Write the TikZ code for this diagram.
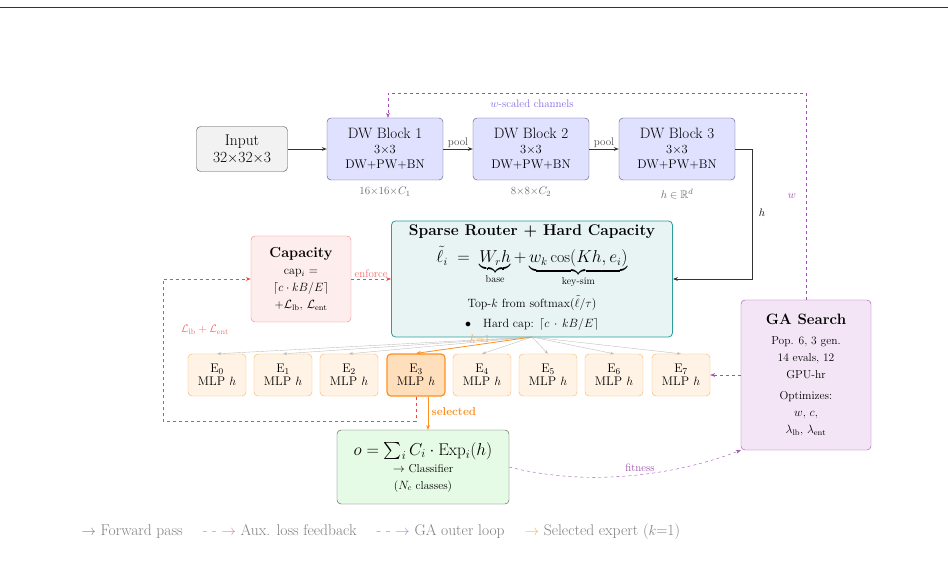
\documentclass[tikz,border=0pt]{standalone}
\usepackage{amsmath,amssymb}
\usepackage{fontspec}
\usetikzlibrary{arrows.meta}
\definecolor{blk}{HTML}{E0E0FF}\definecolor{blkd}{HTML}{505080}
\definecolor{rtf}{HTML}{E8F4F4}\definecolor{rtd}{HTML}{2A9D9D}
\definecolor{capf}{HTML}{FDEDED}\definecolor{capd}{HTML}{F04848}
\definecolor{gaf}{HTML}{F3E5F5}\definecolor{gad}{HTML}{A050B0}
\definecolor{exf}{HTML}{FFF3E6}\definecolor{exd}{HTML}{FFB060}
\definecolor{ors}{HTML}{FF9020}\definecolor{outf}{HTML}{E6FBE6}
\begin{document}
\begin{tikzpicture}[x=1pt,y=-1pt,
 box/.style={draw,rounded corners=4pt,align=center,inner sep=2pt},
 dw/.style={box,fill=blk,draw=blkd,minimum width=116pt,minimum height=62pt,font=\fontsize{15}{16}\selectfont},
 ex/.style={box,fill=exf,draw=exd,minimum width=58pt,minimum height=42pt,font=\fontsize{12.5}{13}\selectfont},
 fw/.style={-{Stealth[length=5pt]},thick,black!80},
 gl/.style={-{Stealth[length=4pt]},black!25},
 rd/.style={-{Stealth[length=5pt]},dashed,capd,thick},
 pd/.style={-{Stealth[length=5pt]},dashed,gad},
 sm/.style={font=\fontsize{11}{12}\selectfont}]
\useasboundingbox (0,0) rectangle (948,569);
\draw[black!80] (0,7) -- (948,7);
\node[box,fill=black!5,draw=black!70,minimum width=91pt,minimum height=45pt,font=\fontsize{15.5}{17}\selectfont] (in) at (242,149) {Input\\32$\times$32$\times$3};
\node[dw] (d1) at (385,149) {DW Block 1\\[-1pt]{\fontsize{12.5}{14}\selectfont 3$\times$3}\\[-1pt]{\fontsize{12.5}{14}\selectfont DW+PW+BN}};
\node[dw] (d2) at (531,149) {DW Block 2\\[-1pt]{\fontsize{12.5}{14}\selectfont 3$\times$3}\\[-1pt]{\fontsize{12.5}{14}\selectfont DW+PW+BN}};
\node[dw] (d3) at (677,149) {DW Block 3\\[-1pt]{\fontsize{12.5}{14}\selectfont 3$\times$3}\\[-1pt]{\fontsize{12.5}{14}\selectfont DW+PW+BN}};
\node[sm,black!60] (l1) at (385,192) {16$\times$16$\times C_1$};
\node[sm,black!60] (l2) at (531,192) {8$\times$8$\times C_2$};
\node[sm,black!60] (l3) at (677,194) {$h\in\mathbb{R}^d$};
\draw[fw] (in) -- (d1);
\draw[fw] (d1) -- node[above,sm,black!70,inner sep=1pt]{pool} (d2);
\draw[fw] (d2) -- node[above,sm,black!70,inner sep=1pt]{pool} (d3);
\node[box,fill=rtf,draw=rtd,thick,minimum width=281pt,minimum height=116pt] (rt) at (532,279) {};
\node[font=\bfseries\fontsize{15.5}{16}\selectfont] (rtt) at (532,232) {Sparse Router + Hard Capacity};
\node[font=\fontsize{16}{17}\selectfont,anchor=north] (rte) at (532,243) {$\tilde\ell_i \;=\; \underbrace{W_r h}_{\text{\fontsize{10}{11}\selectfont base}} + \underbrace{w_k\cos(Kh,e_i)}_{\text{\fontsize{10}{11}\selectfont key-sim}}$};
\node[font=\fontsize{12}{13}\selectfont] (rt1) at (532,303) {Top-$k$ from softmax$(\tilde\ell/\tau)$};
\node[font=\fontsize{12}{13}\selectfont] (rt2) at (532,324) {$\bullet$\quad Hard cap: $\lceil c\,\cdot\,kB/E\rceil$};
\coordinate (rb) at (532,337);
\node[box,fill=capf,draw=capd!70,minimum width=100pt,minimum height=86pt,font=\fontsize{12}{17}\selectfont] (cap) at (301,279) {{\bfseries\fontsize{14.5}{15}\selectfont Capacity}\\cap$_i$ $=$\\$\lceil c\cdot kB/E\rceil$\\$+\mathcal{L}_{\rm lb}$, $\mathcal{L}_{\rm ent}$};
\node[box,fill=gaf,draw=gad,minimum width=130pt,minimum height=150pt,font=\fontsize{11.5}{17}\selectfont] (ga) at (806,375) {{\bfseries\fontsize{15}{16}\selectfont GA Search}\\[3pt]Pop. 6, 3 gen.\\14 evals, 12\\GPU-hr\\[4pt]Optimizes:\\$w$, $c$,\\$\lambda_{\rm lb}$, $\lambda_{\rm ent}$};
\foreach \i/\x in {0/217,1/283,2/349,4/482,5/548,6/614,7/681}{
 \node[ex] (e\i) at (\x,375) {E$_\i$\\MLP $h$};
 \draw[gl] (rb) -- (e\i.north);}
\node[ex,fill=ors!30,draw=ors,very thick] (e3) at (416,375) {E$_3$\\MLP $h$};
\draw[-{Stealth[length=5pt]},ors,thick] (rb) -- node[pos=0.45,above,sm,ors!80,inner sep=1pt]{$k$=1} (e3.north);
\node[box,fill=outf,draw=black!70,minimum width=172pt,minimum height=74pt,font=\fontsize{11.5}{17}\selectfont] (out) at (423,467) {{\fontsize{17}{19}\selectfont $o=\sum_i C_i\cdot\mathrm{Exp}_i(h)$}\\$\rightarrow$ Classifier\\($N_c$ classes)};
\draw[-{Stealth[length=5pt]},ors,thick] (e3.south -| 428,0) -- node[right,ors,font=\bfseries\fontsize{11.5}{12}\selectfont,pos=0.45]{selected} (428,430);
\coordinate (c1) at (416,421); \coordinate (c2) at (163,421); \coordinate (c3) at (163,279);
\draw[rd] (e3.south) -- (c1) -- (c2) -- (c3) -- (cap.west);
\node[sm,capd!80] (lb) at (205,330) {$\mathcal{L}_{\rm lb}+\mathcal{L}_{\rm ent}$};
\draw[rd] (cap.east) -- node[above,sm,capd!80,inner sep=1pt]{enforce} (rt.west);
\coordinate (h1) at (752,149); \coordinate (h2) at (752,279);
\draw[fw] (d3.east) -- (h1) -- (h2) -- (rt.east);
\node[sm] (hl) at (762,213) {$h$};
\coordinate (g1) at (806,93); \coordinate (g2) at (388,93);
\draw[pd] (ga.north) -- (g1) -- (g2) -- (d1.north -| g2);
\node[sm,blue!50!gad!70] (ws) at (532,104) {$w$-scaled channels};
\node[sm,gad] (wl) at (792,196) {$w$};
\draw[pd] (ga.west |- e7) -- (e7.east);
\draw[pd] (out.east) .. controls (600,490) and (690,470) .. node[above,sm,gad,pos=0.5]{fitness} (ga.south west);
\node[font=\fontsize{15.5}{16}\selectfont,black!50,anchor=west] (leg) at (78,532) {$\rightarrow$ Forward pass\quad\ {\color{capd!70}- - $\rightarrow$} Aux. loss feedback\quad\ {\color{gad!70}- - $\rightarrow$} GA outer loop\quad\ {\color{ors!70}$\rightarrow$} Selected expert ($k$=1)};
\end{tikzpicture}
\end{document}
